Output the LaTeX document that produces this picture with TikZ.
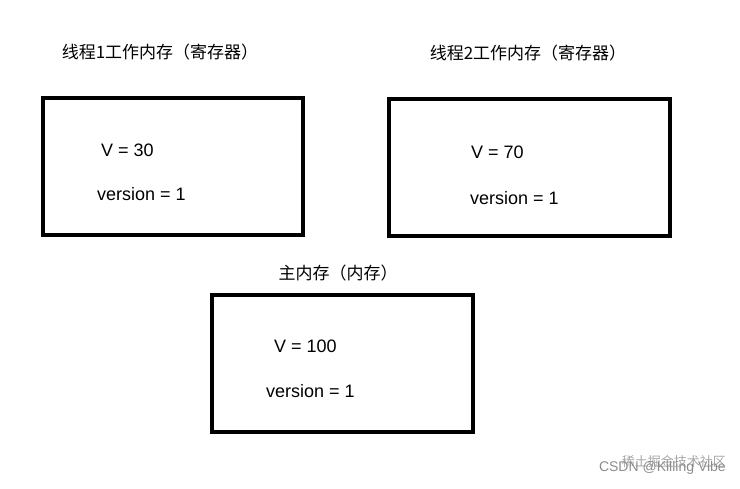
\documentclass[tikz,border=0pt]{standalone}
\usepackage{fontspec}
\setmainfont{Noto Sans CJK SC}
\setsansfont{Liberation Sans}
\begin{document}
\begin{tikzpicture}[x=1pt,y=-1pt,
  box/.style={draw=black,line width=3.5pt},
  txt/.style={font=\sffamily\fontsize{18}{20}\selectfont,anchor=west,inner sep=0pt},
  ttl/.style={font=\fontsize{17}{20}\selectfont,inner sep=0pt},
  wm/.style={font=\fontsize{13}{15}\selectfont,text=black!35,inner sep=0pt,anchor=east}]
\useasboundingbox (0,0) rectangle (740,488);
\draw[box] (43,98) rectangle (303,235) coordinate (b1);
\draw[box] (389,99) rectangle (670,236) coordinate (b2);
\draw[box] (212,295) rectangle (473,432) coordinate (b3);
\node[ttl] (t1) at (160,52) {线程1工作内存（寄存器）};
\node[ttl] (t2) at (528,53) {线程2工作内存（寄存器）};
\node[ttl] (t3) at (338,273) {主内存（内存）};
\node[txt] (v1) at (101,150) {V = 30};
\node[txt] (r1) at (97,194) {version = 1};
\node[txt] (v2) at (471,152) {V = 70};
\node[txt] (r2) at (470,198) {version = 1};
\node[txt] (v3) at (274,346) {V = 100};
\node[txt] (r3) at (266,391) {version = 1};
\node[wm] (w1) at (726,462) {稀土掘金技术社区};
\node[wm,text=black!45,font=\sffamily\fontsize{14}{16}\selectfont] (w2) at (726,468) {CSDN @Killing Vibe};
\end{tikzpicture}
\end{document}
